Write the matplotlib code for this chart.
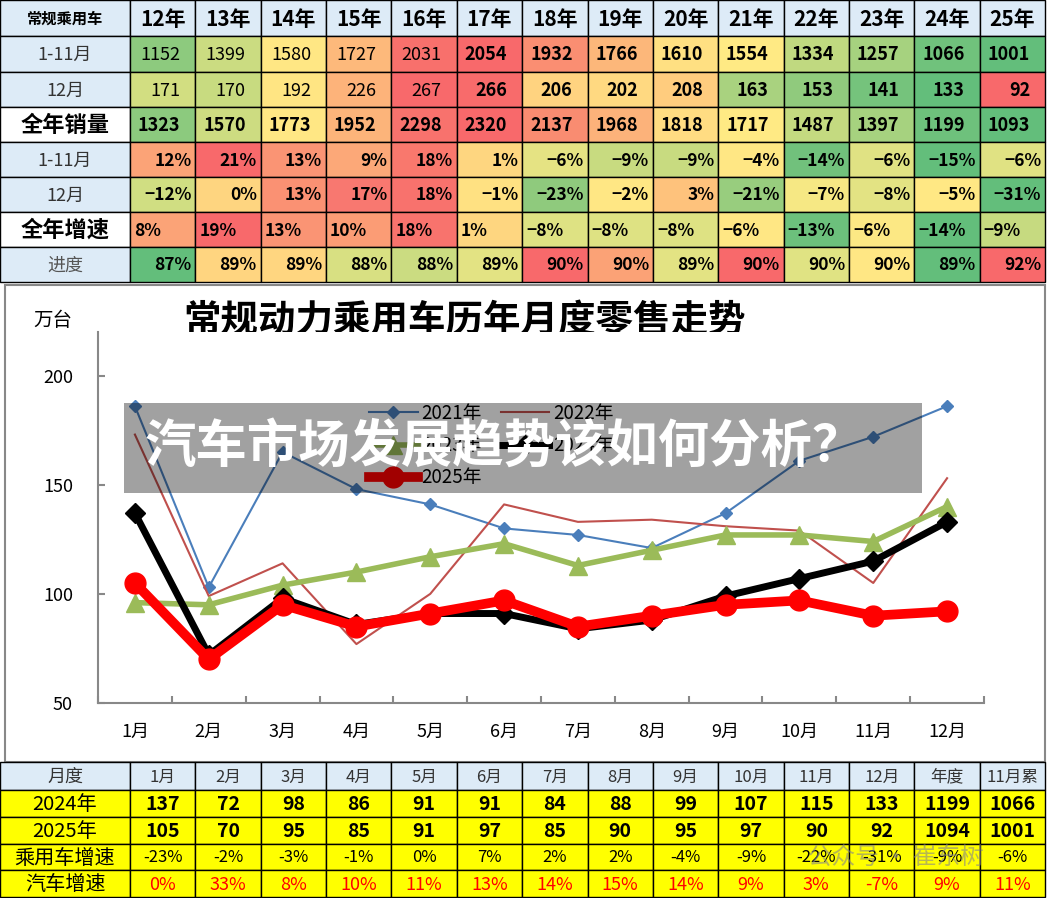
import matplotlib
matplotlib.use('Agg')
import matplotlib.pyplot as plt
from matplotlib.patches import Rectangle

plt.rcParams['font.family'] = ['Noto Sans CJK SC', 'DejaVu Sans']

# ---- top table data ----
years = ['12年', '13年', '14年', '15年', '16年', '17年', '18年',
         '19年', '20年', '21年', '22年', '23年', '24年', '25年']
jan_nov = [1152, 1399, 1580, 1727, 2031, 2054, 1932, 1766, 1610, 1554, 1334, 1257, 1066, 1001]
dec = [171, 170, 192, 226, 267, 266, 206, 202, 208, 163, 153, 141, 133, 92]
full_year = [1323, 1570, 1773, 1952, 2298, 2320, 2137, 1968, 1818, 1717, 1487, 1397, 1199, 1093]
jan_nov_growth = [12, 21, 13, 9, 18, 1, -6, -9, -9, -4, -14, -6, -15, -6]
dec_growth = [-12, 0, 13, 17, 18, -1, -23, -2, 3, -21, -7, -8, -5, -31]
full_growth = [8, 19, 13, 10, 18, 1, -8, -8, -8, -6, -13, -6, -14, -9]
progress = [87, 89, 89, 88, 88, 89, 90, 90, 89, 90, 90, 90, 89, 92]

# ---- chart data (万台) ----
months = ['1月', '2月', '3月', '4月', '5月', '6月', '7月', '8月', '9月', '10月', '11月', '12月']
y2021 = [186, 103, 165, 148, 141, 130, 127, 121, 137, 161, 172, 186]
y2022 = [173, 99, 114, 77, 100, 141, 133, 134, 131, 129, 105, 153]
y2023 = [96, 95, 104, 110, 117, 123, 113, 120, 127, 127, 124, 140]
y2024 = [137, 72, 98, 86, 91, 91, 84, 88, 99, 107, 115, 133]
y2025 = [105, 70, 95, 85, 91, 97, 85, 90, 95, 97, 90, 92]

# ---- bottom table data ----
bt_cols = months + ['年度', '11月累']
bt_2024 = y2024 + [1199, 1066]
bt_2025 = y2025 + [1094, 1001]
pv_growth = ['-23%', '-2%', '-3%', '-1%', '0%', '7%', '2%', '2%', '-4%', '-9%', '-22%', '-31%', '-9%', '-6%']
auto_growth = ['0%', '33%', '8%', '10%', '11%', '13%', '14%', '15%', '14%', '9%', '3%', '-7%', '9%', '11%']

# conditional-format colours
c_jan_nov = ['#8DCA7E', '#CBDC81', '#FFE784', '#FDB97B', '#F8706C', '#F8696B', '#FA8E72',
             '#FCB77A', '#FFE082', '#FFEA84', '#C0D980', '#A6D27F', '#70C27C', '#63BE7B']
c_dec = ['#D2DE81', '#C8DB80', '#FFE583', '#FDB37A', '#F8696B', '#F86B6B', '#FFD380',
         '#FFD981', '#FFCC7E', '#A9D27F', '#90CA7D', '#75C37C', '#63BE7B', '#F8696B']
c_full = ['#8CCA7E', '#CDDC81', '#FFE784', '#FCB47A', '#F8726D', '#F8696B', '#F98C71',
          '#FCB27A', '#FFDC82', '#FFEA84', '#C4DA80', '#A6D27F', '#6EC17C', '#63BE7B']
c_jn_g = ['#FBA377', '#F8696B', '#FA9474', '#FCA878', '#F9786D', '#FED680', '#E5E383',
          '#C8DB80', '#C8DB80', '#FFE784', '#71C17C', '#E0E283', '#63BE7B', '#E0E283']
c_dec_g = ['#D0DE82', '#FED580', '#FA9173', '#F87870', '#F8726D', '#FFE182', '#8FCA7D',
           '#FFE784', '#FEC27C', '#98CD7E', '#F6E884', '#E3E383', '#FFE884', '#63BE7B']
c_full_g = ['#FBA377', '#F8696B', '#FA9474', '#FB9C75', '#F8736D', '#FED680', '#DEE283',
            '#DEE283', '#DEE283', '#FFE784', '#6CC07C', '#FCE884', '#63BE7B', '#C6DA80']
c_prog = ['#63BE7B', '#FFD580', '#FFD680', '#D8E082', '#CBDC81', '#E3E383', '#F8696B',
          '#FBA276', '#E3E383', '#F8696B', '#E0E383', '#FFE784', '#63BE7B', '#F8696B']

HEAD = '#DDEBF7'
fig = plt.figure(figsize=(10.48, 8.98), dpi=100)
bg = fig.add_axes([0, 0, 1, 1])
bg.set_xlim(0, 1048)
bg.set_ylim(898, 0)
bg.axis('off')

col_x = [0, 130] + [130 + 65.36 * (k + 1) for k in range(14)]


def cell(x0, x1, y0, y1, fc, text='', ha='center', pad=4, **kw):
    bg.add_patch(Rectangle((x0, y0), x1 - x0, y1 - y0, facecolor=fc, edgecolor='black', lw=1))
    if text == '':
        return
    if ha == 'center':
        tx = (x0 + x1) / 2
    elif ha == 'right':
        tx = x1 - pad
    else:
        tx = x0 + pad
    bg.text(tx, (y0 + y1) / 2 + 1, text, ha=ha, va='center', **kw)


def pct(v):
    return ('−%d%%' % -v) if v < 0 else '%d%%' % v


# ---- top table ----
rows_y = [0, 36, 72, 107, 142, 177, 212, 247, 282]
cell(0, 130, 0, 36, HEAD, '常规乘用车', fontsize=11, fontweight='bold')
for i, yr in enumerate(years):
    cell(col_x[i + 1], col_x[i + 2], 0, 36, HEAD, yr, fontsize=15, fontweight='bold')

labels = [('1-11月', HEAD, dict(fontsize=13, color='#333333')),
          ('12月', HEAD, dict(fontsize=13, color='#333333')),
          ('全年销量', 'white', dict(fontsize=16, fontweight='bold')),
          ('1-11月', HEAD, dict(fontsize=13, color='#333333')),
          ('12月', HEAD, dict(fontsize=13, color='#333333')),
          ('全年增速', 'white', dict(fontsize=16, fontweight='bold')),
          ('进度', HEAD, dict(fontsize=13, color='#555555'))]
for r, (lab, fc, kw) in enumerate(labels):
    cell(0, 130, rows_y[r + 1], rows_y[r + 2], fc, lab, **kw)

num_rows = [(jan_nov, c_jan_nov, 5), (dec, c_dec, 5), (full_year, c_full, 0)]
for r, (vals, cols, bold_from) in enumerate(num_rows):
    for i, v in enumerate(vals):
        w = 'bold' if i >= bold_from else 'normal'
        cell(col_x[i + 1], col_x[i + 2], rows_y[r + 1], rows_y[r + 2], cols[i], str(v),
             ha='right', pad=15, fontsize=13, fontweight=w)

pct_rows = [(jan_nov_growth, c_jn_g, 'right'), (dec_growth, c_dec_g, 'right'),
            (full_growth, c_full_g, 'left'), (progress, c_prog, 'right')]
for r, (vals, cols, ha) in enumerate(pct_rows):
    for i, v in enumerate(vals):
        cell(col_x[i + 1], col_x[i + 2], rows_y[r + 4], rows_y[r + 5], cols[i], pct(v),
             ha=ha, pad=4, fontsize=12.5, fontweight='bold')

# ---- chart panel ----
bg.add_patch(Rectangle((5, 285), 1040, 477, facecolor='white', edgecolor='#888888', lw=1.5))
bg.text(465, 321, '常规动力乘用车历年月度零售走势', ha='center', va='center',
        fontsize=27, fontweight='bold')
bg.text(53, 320, '万台', ha='center', va='center', fontsize=14)

ax = fig.add_axes([98 / 1048, 1 - 703 / 898, 886 / 1048, 371 / 898])
x = range(12)
h21, = ax.plot(x, y2021, color='#4A7EBB', lw=1.5, marker='D', ms=6, label='2021年')
h22, = ax.plot(x, y2022, color='#C0504D', lw=1.5, label='2022年')
h23, = ax.plot(x, y2023, color='#9BBB59', lw=4, marker='^', ms=13, label='2023年')
h24, = ax.plot(x, y2024, color='black', lw=5, marker='D', ms=10, label='2024年')
h25, = ax.plot(x, y2025, color='#FF0000', lw=7, marker='o', ms=15, label='2025年')

ax.set_xlim(-0.5, 11.5)
ax.set_ylim(50, 220)
ax.set_yticks([50, 100, 150, 200])
ax.set_xticks(list(x))
ax.set_xticklabels(months)
ax.set_xticks([k - 0.5 for k in range(13)], minor=True)
ax.tick_params(axis='x', which='major', length=0, pad=14, labelsize=13)
ax.tick_params(axis='x', which='minor', length=5, direction='in', color='#888888', width=1.5)
ax.tick_params(axis='y', length=5, direction='in', color='#888888', width=1.5, pad=18, labelsize=13)
for s in ['top', 'right']:
    ax.spines[s].set_visible(False)
for s in ['left', 'bottom']:
    ax.spines[s].set_color('#888888')
    ax.spines[s].set_linewidth(1.5)

ax.legend(handles=[h21, h23, h25, h22, h24], ncol=2, loc='upper left',
          bbox_to_anchor=(352 / 1048, 1 - 386 / 898), bbox_transform=fig.transFigure,
          frameon=False, fontsize=13.5, handlelength=2.6, columnspacing=1.0,
          labelspacing=0.6, handletextpad=0.2)

# ---- banner overlay ----
fig.add_artist(Rectangle((124 / 1048, 1 - 493 / 898), 798 / 1048, 90 / 898,
                         transform=fig.transFigure, facecolor='black', alpha=0.37,
                         edgecolor='none', zorder=10))
fig.text(145 / 1048, 1 - 446 / 898, '汽车市场发展趋势该如何分析？', color='white',
         fontsize=37, fontweight='black', va='center', ha='left', zorder=11)

# ---- bottom table ----
bt_y = [762, 790, 817, 844, 870, 897]
YEL = '#FFFF00'
cell(0, 130, bt_y[0], bt_y[1], HEAD, '月度', fontsize=13, color='#333333')
for i, c in enumerate(bt_cols):
    cell(col_x[i + 1], col_x[i + 2], bt_y[0], bt_y[1], HEAD, c, fontsize=12, color='#333333')
bt_rows = [('2024年', [str(v) for v in bt_2024], dict(fontsize=14, fontweight='bold')),
           ('2025年', [str(v) for v in bt_2025], dict(fontsize=14, fontweight='bold')),
           ('乘用车增速', pv_growth, dict(fontsize=12)),
           ('汽车增速', auto_growth, dict(fontsize=13, color='#FF0000'))]
for r, (lab, vals, kw) in enumerate(bt_rows):
    cell(0, 130, bt_y[r + 1], bt_y[r + 2], YEL, lab, fontsize=14.5)
    for i, v in enumerate(vals):
        cell(col_x[i + 1], col_x[i + 2], bt_y[r + 1], bt_y[r + 2], YEL, v, **kw)

# watermark
bg.text(808, 857, '公众号 · 崔东树', fontsize=17, color='#888888', alpha=0.6,
        va='center', ha='left', zorder=20)

fig.savefig('out.png', dpi=100)
